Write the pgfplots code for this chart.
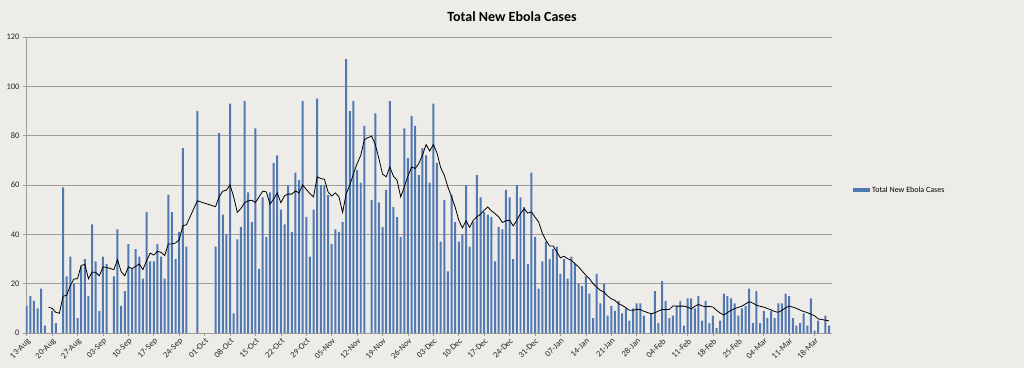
\documentclass[border=0pt]{standalone}
\usepackage{fontspec}
\setmainfont{Carlito}
\usepackage{pgfplots}
\pgfplotsset{compat=1.18}
\definecolor{bg}{RGB}{238,236,233}
\definecolor{barc}{RGB}{82,120,178}
\definecolor{gridc}{RGB}{160,158,155}
\begin{document}
\begin{tikzpicture}[x=1pt,y=1pt]
\fill[bg] (0,0) rectangle (1024,368);
\node[font=\fontsize{14}{16}\selectfont\bfseries] at (512,351) {Total New Ebola Cases};
\begin{axis}[
  at={(26pt,35pt)}, anchor=south west,
  scale only axis, width=806pt, height=296pt,
  xmin=-0.2, xmax=221.8, ymin=0, ymax=120,
  ytick={0,20,40,60,80,100,120},
  xtick={0,7,...,217},
  xticklabels={13-Aug,20-Aug,27-Aug,03-Sep,10-Sep,17-Sep,24-Sep,01-Oct,08-Oct,15-Oct,22-Oct,29-Oct,05-Nov,12-Nov,19-Nov,26-Nov,03-Dec,10-Dec,17-Dec,24-Dec,31-Dec,07-Jan,14-Jan,21-Jan,28-Jan,04-Feb,11-Feb,18-Feb,25-Feb,04-Mar,11-Mar,18-Mar},
  x tick label style={rotate=45, anchor=north east, font=\fontsize{8.5}{9}\selectfont, text=black!85, inner sep=1pt},
  y tick label style={font=\fontsize{8.5}{9}\selectfont, text=black!85},
  /pgf/number format/assume math mode=true,
  ymajorgrids, major grid style={gridc, line width=1pt},
  axis x line*=bottom, axis y line*=left,
  axis line style={gridc, line width=0.8pt},
  tick style={gridc, line width=0.6pt}, major tick length=3pt, tick align=outside,
  legend style={at={(1.026,0.483)}, anchor=west, draw=none, fill=none, font=\fontsize{8}{9}\selectfont, inner sep=0pt},
  legend cell align=left,
]
\addplot[ybar, bar width=0.55, bar shift=0pt, fill=barc, draw=none,
  legend image code/.code={\fill[barc] (0pt,-2pt) rectangle (17pt,2pt);}] coordinates {
(0,11)(1,15)(2,13)(3,10)(4,18)(5,3)(7,9)(8,4)(10,59)(11,23)(12,31)(13,20)(14,6)(15,27)(16,30)(17,15)(18,44)(19,29)(20,9)(21,31)(22,28)(24,23)(25,42)(26,11)(27,17)(28,36)(29,26)(30,34)(31,31)(32,22)(33,49)(34,29)(35,29)(36,36)(37,31)(38,22)(39,56)(40,49)(41,30)(42,41)(43,75)(44,35)(47,90)(52,35)(53,81)(54,48)(55,40)(56,93)(57,8)(58,38)(59,43)(60,94)(61,57)(62,45)(63,83)(64,26)(65,55)(66,39)(67,57)(68,69)(69,72)(70,50)(71,44)(72,60)(73,41)(74,65)(75,62)(76,94)(77,47)(78,31)(79,50)(80,95)(81,60)(82,60)(83,56)(84,36)(85,42)(86,41)(87,45)(88,111)(89,90)(90,94)(91,66)(92,61)(93,84)(95,54)(96,89)(97,53)(98,43)(99,58)(100,94)(101,51)(102,47)(103,39)(104,83)(105,71)(106,88)(107,84)(108,64)(109,75)(110,72)(111,61)(112,93)(113,69)(114,37)(115,54)(116,25)(117,56)(118,45)(119,37)(120,40)(121,60)(122,35)(123,45)(124,64)(125,55)(126,49)(127,48)(128,47)(129,29)(130,43)(131,42)(132,58)(133,55)(134,30)(135,60)(136,55)(137,51)(138,28)(139,65)(140,39)(141,18)(142,29)(143,37)(144,30)(145,34)(146,35)(147,24)(148,30)(149,22)(150,31)(151,28)(152,20)(153,19)(154,23)(155,16)(156,6)(157,24)(158,12)(159,20)(160,7)(161,11)(162,9)(163,13)(164,8)(165,10)(166,5)(167,10)(168,12)(169,12)(170,7)(172,8)(173,17)(174,4)(175,21)(176,13)(177,6)(178,7)(179,11)(180,13)(181,3)(182,14)(183,14)(184,10)(185,15)(186,5)(187,13)(188,4)(189,7)(190,2)(191,5)(192,16)(193,15)(194,14)(195,12)(196,7)(197,10)(198,11)(199,18)(200,4)(201,17)(202,4)(203,9)(204,6)(205,9)(206,6)(207,12)(208,12)(209,16)(210,15)(211,6)(212,3)(213,4)(214,8)(215,3)(216,14)(217,1)(218,5)(220,7)(221,3)
};
\addlegendentry{Total New Ebola Cases}
\addplot[black, line width=0.8pt, mark=none, forget plot] coordinates {
(6,10.5)(7,10)(8,8.4)(9,8)(10,14.9)(11,15.3)(12,19.2)(13,21.9)(14,22)(15,27.4)(16,27.8)(17,22)(18,24.7)(19,24.6)(20,23.2)(21,26.8)(22,26.6)(24,25.7)(25,29.7)(26,24.9)(27,23.2)(28,26.8)(29,26.1)(30,27)(31,28)(32,25.7)(33,29.3)(34,32.4)(35,31.6)(36,33.1)(37,32.7)(38,31.4)(39,36.1)(40,36.1)(41,36.5)(42,37.8)(43,43.5)(44,43.9)(47,53.6)(52,51.2)(53,55.2)(54,57.5)(55,57.9)(56,60)(57,55.2)(58,48.9)(59,50.5)(60,52.8)(61,53.6)(62,53.8)(63,52.9)(64,55.2)(65,57.5)(66,57.2)(67,52.2)(68,54.3)(69,56.8)(70,52.8)(71,55.6)(72,56.3)(73,56.3)(74,57.6)(75,56.8)(76,60)(77,58.2)(78,56.5)(79,55.2)(80,63.3)(81,62.6)(82,62.3)(83,57.2)(84,55.5)(85,56.8)(86,55.2)(87,48.9)(88,56.5)(89,60)(90,64.6)(91,68.7)(92,72)(93,78.4)(94,79.2)(95,79.8)(96,76.5)(97,70.7)(98,64.4)(99,63.3)(100,67.3)(101,63.6)(102,61.9)(103,55.2)(104,59.2)(105,63.6)(106,67.3)(107,66.7)(108,68.7)(109,72.1)(110,76.4)(111,73.8)(112,76.4)(113,73)(114,67.1)(115,64)(116,59.2)(117,55.2)(118,51.1)(119,45.7)(120,42.6)(121,45.5)(122,42.8)(123,45.7)(124,47.1)(125,48.2)(126,49.8)(127,51.1)(128,49.5)(129,48.4)(130,47.1)(131,44.8)(132,45.5)(133,45.7)(134,43.4)(135,45.7)(136,48.4)(137,50.4)(138,48.6)(139,49.1)(140,47)(141,45)(142,40.5)(143,37.6)(144,35.3)(145,35.3)(146,32.8)(147,30.5)(148,31.1)(149,30.1)(150,29.5)(151,28.1)(152,26.8)(153,25.1)(154,23.4)(155,22)(156,20)(157,18.6)(158,17.3)(159,16.6)(160,15)(161,13.9)(162,13.2)(163,11.9)(164,11.2)(165,10.3)(166,9.2)(167,9.2)(168,9.6)(169,9.5)(170,8.8)(172,7.8)(173,8.2)(174,8.9)(175,9.5)(176,9.5)(177,9.5)(178,11)(179,10.9)(180,10.9)(181,10.9)(182,10.5)(183,9.8)(184,10.8)(185,11.6)(186,11)(187,10.6)(188,10.8)(189,10.5)(190,9.2)(191,8.1)(192,7.3)(193,8.3)(194,9.2)(195,9.9)(196,10.4)(197,10.9)(198,11.8)(199,12.7)(200,12.1)(201,11.3)(202,10.8)(203,10.5)(204,9.9)(205,9.4)(206,8.7)(207,8.4)(208,9.2)(209,10.2)(210,10.9)(211,10.5)(212,10)(213,9.3)(214,8.7)(215,8.3)(216,7.6)(217,7)(218,5.7)(220,5.2)(221,4.9)
};
\end{axis}
\end{tikzpicture}
\end{document}
